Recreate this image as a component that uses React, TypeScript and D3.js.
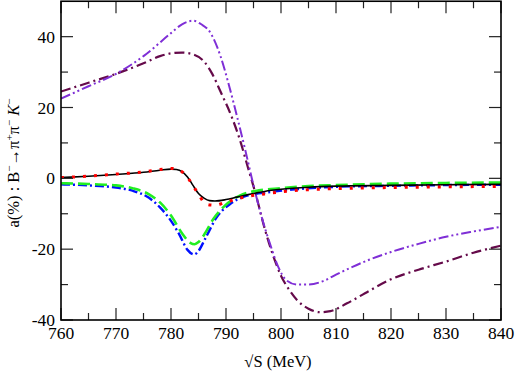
import * as d3 from 'd3';

// x positions (sqrt S, MeV) and values (%) for each curve
const blackX = [760, 765, 770, 775, 778, 780, 781, 782, 783, 784, 785, 786, 787, 788, 790, 792, 794, 797, 800, 805, 810, 820, 830, 840];
const blackY = [0.2, 0.6, 1.1, 1.7, 2.3, 2.6, 2.5, 1.9, 0.4, -2, -4.3, -5.6, -6.3, -6.4, -6, -5.3, -4.6, -3.7, -3.1, -2.5, -2.2, -2, -1.8, -1.7];

const redX = [760, 765, 770, 775, 778, 780, 781.5, 782.8, 783.8, 785, 786, 787, 788, 790, 792, 794, 797, 800, 805, 810, 820, 830, 840];
const redY = [0.2, 0.6, 1.2, 1.8, 2.5, 2.8, 2.3, 0.7, -1.6, -4.5, -6.8, -7.5, -7.6, -6.7, -5.8, -5.1, -4.4, -3.8, -3.2, -2.9, -2.6, -2.4, -2.3];

const greenX = [760, 765, 770, 773, 776, 778, 780, 782, 783.5, 784.3, 785, 786, 787.7, 789.8, 792.5, 796, 800, 805, 810, 820, 830, 840];
const greenY = [-1.4, -1.6, -2, -2.8, -4.5, -6.8, -10.5, -15.5, -18.2, -18.6, -18, -16, -11.5, -7.7, -4.9, -3.4, -2.8, -2.2, -1.9, -1.5, -1.3, -1.2];

const blueX = [760, 765, 770, 773, 776, 778, 780, 781.5, 783, 784.2, 785, 786.2, 788.3, 790.7, 793.8, 797.4, 802, 810, 820, 830, 840];
const blueY = [-1.7, -2, -2.6, -3.5, -5.5, -8.2, -12, -15.8, -20.2, -21.5, -20.5, -17.1, -11, -7.3, -4.9, -4, -3.2, -2.4, -2.1, -1.9, -1.8];

const purpleX = [760, 765, 770, 775, 780, 782, 784, 785.5, 787, 789, 790.5, 792, 793.5, 795, 796.5, 798, 799.5, 801, 803, 805, 808, 810, 813, 816, 820, 825, 830, 835, 840];
const purpleY = [22.5, 26, 29.5, 34.5, 41, 43.5, 44.5, 43.5, 41.5, 34.5, 26.5, 17.5, 8, -2, -11, -18.5, -25, -28.8, -30, -30, -28.8, -27.2, -25, -23, -20.8, -18.5, -16.5, -15, -13.7];

const maroonX = [760, 765, 770, 775, 778, 780, 782, 784, 786, 787.5, 789, 791, 792.5, 794, 795.5, 797, 798.5, 800, 801.5, 803, 805, 807, 809, 812, 816, 820, 825, 830, 835, 840];
const maroonY = [24.5, 27, 29.5, 32.5, 34.5, 35.3, 35.5, 35, 33, 29.5, 24.5, 17.5, 11, 3, -5, -14, -21.5, -27.5, -31.5, -34.5, -36.8, -37.8, -37.5, -35.3, -31.8, -28.5, -25.8, -23.5, -21, -19];

const xTicks = [760, 770, 780, 790, 800, 810, 820, 830, 840];
const xMinor = [765, 775, 785, 795, 805, 815, 825, 835];
const yTicks = [-40, -20, 0, 20, 40];
const yMinor = [-30, -10, 10, 30];

const width = 516;
const height = 382;
const margin = { left: 61, right: 15, top: 1.25, bottom: 62 };

export default function App() {
  const x = d3.scaleLinear().domain([760, 840]).range([margin.left, width - margin.right]);
  const y = d3.scaleLinear().domain([-40, 50]).range([height - margin.bottom, margin.top]);

  const line = d3
    .line<[number, number]>()
    .x((d) => x(d[0]))
    .y((d) => y(d[1]))
    .curve(d3.curveMonotoneX);

  const zip = (xs: number[], ys: number[]) => xs.map((v, i) => [v, ys[i]] as [number, number]);

  // curves, drawn back to front
  const series = [
    { xs: maroonX, ys: maroonY, color: '#650a4a', dash: '10 4 2 4', w: 2.2 },
    { xs: purpleX, ys: purpleY, color: '#7f2fd6', dash: '10 3 2 3 2 3', w: 2 },
    { xs: blueX, ys: blueY, color: '#0010ff', dash: '9 3 2 3', w: 2.4 },
    { xs: greenX, ys: greenY, color: '#22ee22', dash: '12 5', w: 2.6 },
    { xs: blackX, ys: blackY, color: '#000000', dash: 'none', w: 1.6 },
    { xs: redX, ys: redY, color: '#ff0000', dash: '3 8', w: 3 },
  ];

  const x0 = x(760);
  const x1 = x(840);
  const yb = y(-40);
  const yt = y(50);
  const font = 'Liberation Serif';

  return (
    <svg width={width} height={height} style={{ position: 'absolute', left: 0, top: 0, background: '#fff' }}>
      <defs>
        <clipPath id='plot'>
          <rect x={x0} y={yt} width={x1 - x0} height={yb - yt} />
        </clipPath>
      </defs>

      <g clipPath='url(#plot)'>
        {series.map((s, i) => (
          <path
            key={i}
            d={line(zip(s.xs, s.ys)) || ''}
            fill='none'
            stroke={s.color}
            strokeWidth={s.w}
            strokeDasharray={s.dash}
          />
        ))}
      </g>

      {/* ticks on all four sides, pointing inward */}
      <g stroke='#222' strokeWidth={1.2}>
        {xTicks.map((t) => (
          <g key={'xt' + t}>
            <line x1={x(t)} x2={x(t)} y1={yb} y2={yb - 12} />
            <line x1={x(t)} x2={x(t)} y1={yt} y2={yt + 12} />
          </g>
        ))}
        {xMinor.map((t) => (
          <g key={'xm' + t}>
            <line x1={x(t)} x2={x(t)} y1={yb} y2={yb - 7} />
            <line x1={x(t)} x2={x(t)} y1={yt} y2={yt + 7} />
          </g>
        ))}
        {yTicks.map((t) => (
          <g key={'yt' + t}>
            <line x1={x0} x2={x0 + 12} y1={y(t)} y2={y(t)} />
            <line x1={x1} x2={x1 - 12} y1={y(t)} y2={y(t)} />
          </g>
        ))}
        {yMinor.map((t) => (
          <g key={'ym' + t}>
            <line x1={x0} x2={x0 + 7} y1={y(t)} y2={y(t)} />
            <line x1={x1} x2={x1 - 7} y1={y(t)} y2={y(t)} />
          </g>
        ))}
      </g>

      <rect x={x0} y={yt} width={x1 - x0} height={yb - yt} fill='none' stroke='#000' strokeWidth={1.6} />

      <g style={{ fontFamily: font }} fontSize={17.5} fill='#000'>
        {xTicks.map((t) => (
          <text key={'xl' + t} x={x(t)} y={yb + 19} textAnchor='middle'>
            {t}
          </text>
        ))}
        {yTicks.map((t) => (
          <text key={'yl' + t} x={x0 - 6} y={y(t)} dy='0.35em' textAnchor='end'>
            {t}
          </text>
        ))}
      </g>

      <text x={278} y={367} textAnchor='middle' style={{ fontFamily: font }} fontSize={16.5}>
        √S (MeV)
      </text>

      <text
        transform='translate(19, 163) rotate(-90)'
        textAnchor='middle'
        style={{ fontFamily: font }}
        fontSize={16.5}
      >
        a(%) : B
        <tspan dy='-6' fontSize={11}>−</tspan>
        <tspan dy='6'>→π</tspan>
        <tspan dy='-6' fontSize={11}>+</tspan>
        <tspan dy='6'>π</tspan>
        <tspan dy='-6' fontSize={11}>−</tspan>
        <tspan dy='6' fontStyle='italic'> K</tspan>
        <tspan dy='-6' fontSize={11}>−</tspan>
      </text>
    </svg>
  );
}
